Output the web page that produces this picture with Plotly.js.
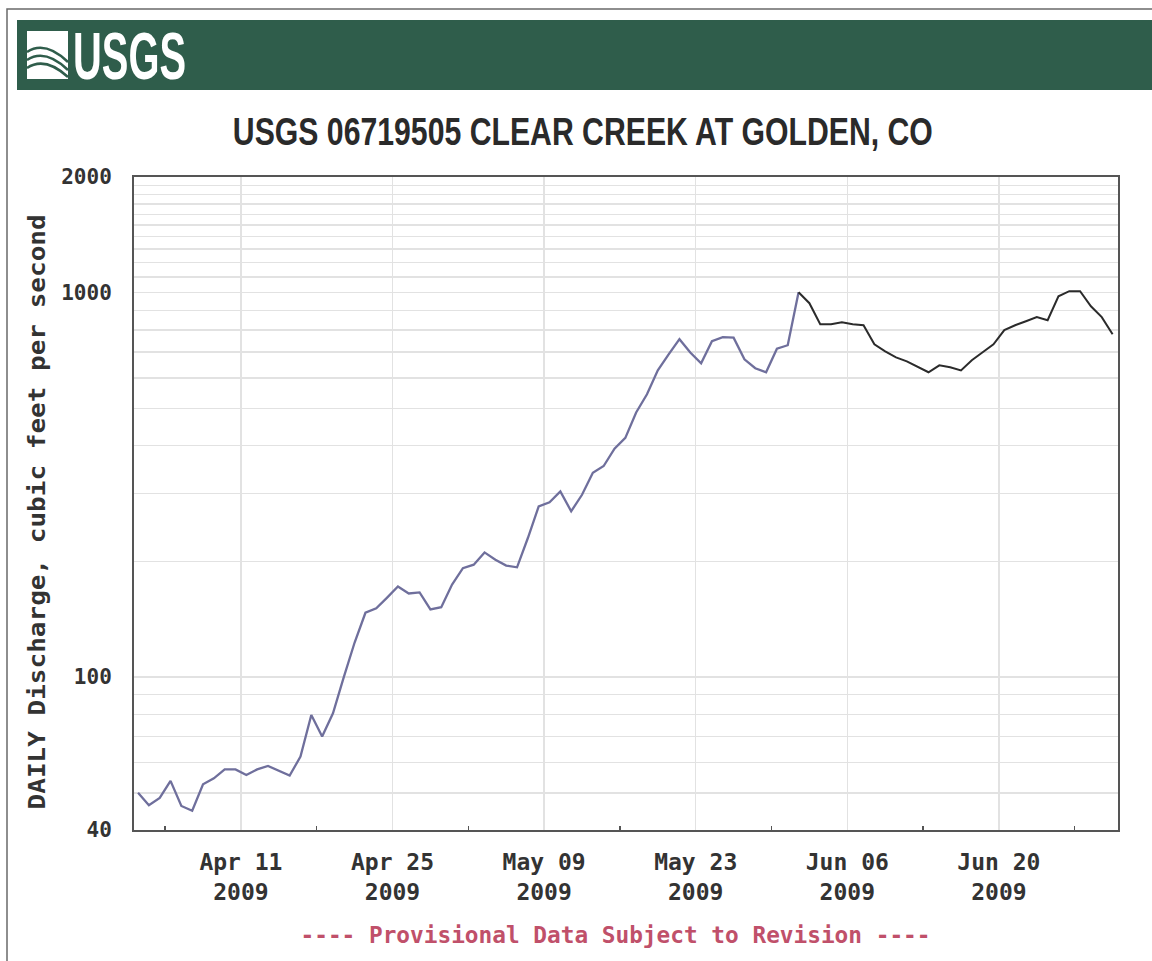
<!DOCTYPE html>
<html>
<head>
<meta charset="utf-8">
<script src="https://cdn.plot.ly/plotly-3.0.1.min.js"></script>
<style>
  html, body { margin: 0; padding: 0; background: #ffffff; }
  #chart { width: 1152px; height: 961px; }
</style>
</head>
<body>
<div id="chart"></div>
<script>
// ---------- data ----------
const approvedDates = [
  '2009-04-01','2009-04-02','2009-04-03','2009-04-04','2009-04-05','2009-04-06','2009-04-07','2009-04-08','2009-04-09','2009-04-10',
  '2009-04-11','2009-04-12','2009-04-13','2009-04-14','2009-04-15','2009-04-16','2009-04-17','2009-04-18','2009-04-19','2009-04-20',
  '2009-04-21','2009-04-22','2009-04-23','2009-04-24','2009-04-25','2009-04-26','2009-04-27','2009-04-28','2009-04-29','2009-04-30',
  '2009-05-01','2009-05-02','2009-05-03','2009-05-04','2009-05-05','2009-05-06','2009-05-07','2009-05-08','2009-05-09','2009-05-10',
  '2009-05-11','2009-05-12','2009-05-13','2009-05-14','2009-05-15','2009-05-16','2009-05-17','2009-05-18','2009-05-19','2009-05-20',
  '2009-05-21','2009-05-22','2009-05-23','2009-05-24','2009-05-25','2009-05-26','2009-05-27','2009-05-28','2009-05-29','2009-05-30',
  '2009-05-31','2009-06-01'
];
const approvedFlow = [
  50.0, 46.4, 48.5, 53.7, 46.2, 44.9, 52.6, 54.5, 57.5, 57.5,
  55.6, 57.5, 58.7, 56.9, 55.4, 62.1, 79.7, 70.0, 80.5, 100,
  123, 147, 151, 161, 172, 165, 166, 150, 152, 174,
  192, 196, 211, 202, 195, 193, 230, 278, 285, 304,
  270, 298, 340, 354, 393, 419, 488, 544, 628, 691,
  757, 699, 655, 748, 766, 764, 671, 636, 621, 715,
  730, 1003
];
const provisionalDates = [
  '2009-06-01','2009-06-02','2009-06-03','2009-06-04','2009-06-05','2009-06-06','2009-06-07','2009-06-08','2009-06-09','2009-06-10',
  '2009-06-11','2009-06-12','2009-06-13','2009-06-14','2009-06-15','2009-06-16','2009-06-17','2009-06-18','2009-06-19','2009-06-20',
  '2009-06-21','2009-06-22','2009-06-23','2009-06-24','2009-06-25','2009-06-26','2009-06-27','2009-06-28','2009-06-29','2009-06-30'
];
const provisionalFlow = [
  1003, 939, 828, 828, 838, 828, 823, 734, 704, 679,
  663, 643, 621, 647, 640, 628, 667, 700, 734, 799,
  823, 843, 864, 848, 979, 1009, 1009, 922, 864, 780
];
const xTickDates = ['2009-04-11','2009-04-25','2009-05-09','2009-05-23','2009-06-06','2009-06-20'];
const xTickLabels = ['Apr 11<br>2009','Apr 25<br>2009','May 09<br>2009','May 23<br>2009','Jun 06<br>2009','Jun 20<br>2009'];
const xMinorDates = ['2009-04-04','2009-04-18','2009-05-02','2009-05-16','2009-05-30','2009-06-13','2009-06-27'];
const yGridVals = [40,50,60,70,80,90,100,200,300,400,500,600,700,800,900,1000,1100,1200,1300,1400,1500,1600,1700,1800,1900,2000];
const yLabelVals = [40,100,1000,2000];

// ---------- layout helpers (pixel -> paper) ----------
const ML = 134, MR = 34, MT = 177, MB = 131, W = 1152, H = 961;
const PW = W - ML - MR, PH = H - MT - MB;
const px = v => (v - ML) / PW;
const py = v => (H - MB - v) / PH;

const mono = 'DejaVu Sans Mono, Liberation Mono, monospace';
const sans = 'Liberation Sans, Arial, sans-serif';

const traces = [
  {
    x: approvedDates.map(d => d + ' 12:00'),
    y: approvedFlow,
    type: 'scatter', mode: 'lines',
    line: { color: '#6f6f9c', width: 2.3 },
    hoverinfo: 'x+y', showlegend: false
  },
  {
    x: provisionalDates.map(d => d + ' 12:00'),
    y: provisionalFlow,
    type: 'scatter', mode: 'lines',
    line: { color: '#2b2b2b', width: 2, shape: 'linear' },
    hoverinfo: 'x+y', showlegend: false
  }
];

const layout = {
  width: W, height: H,
  margin: { l: ML, r: MR, t: MT, b: MB, pad: 0 },
  paper_bgcolor: '#ffffff',
  plot_bgcolor: '#ffffff',
  showlegend: false,
  xaxis: {
    type: 'date',
    range: ['2009-04-01 03:00', '2009-07-01 00:00'],
    tickmode: 'array',
    tickvals: xTickDates,
    ticktext: xTickLabels,
    ticks: '',
    showgrid: true,
    gridcolor: '#e2e2e2',
    gridwidth: 1.5,
    showline: true,
    linecolor: '#555555',
    linewidth: 2,
    mirror: true,
    zeroline: false,
    ticklabelstandoff: 10,
    tickfont: { family: mono, size: 23, color: '#333333', weight: 'bold' },
    minor: {
      tickmode: 'array',
      tickvals: xMinorDates,
      ticks: 'inside',
      ticklen: 4,
      tickwidth: 1.5,
      tickcolor: '#555555',
      showgrid: false
    }
  },
  yaxis: {
    type: 'log',
    range: [Math.log10(40), Math.log10(2000)],
    tickmode: 'array',
    tickvals: yGridVals,
    ticktext: yGridVals.map(v => yLabelVals.includes(v) ? String(v) : ''),
    ticks: '',
    showgrid: true,
    gridcolor: '#e2e2e2',
    gridwidth: 1.5,
    showline: true,
    linecolor: '#555555',
    linewidth: 2,
    mirror: true,
    zeroline: false,
    ticklabelstandoff: 16,
    tickfont: { family: mono, size: 21, color: '#333333', weight: 'bold' }
  },
  shapes: [
    // outer frame
    { type: 'rect', xref: 'paper', yref: 'paper', x0: px(7), x1: px(1170), y0: py(980), y1: py(9),
      line: { color: '#6a6a6a', width: 1.5 }, fillcolor: 'rgba(0,0,0,0)', layer: 'below' },
    // header band
    { type: 'rect', xref: 'paper', yref: 'paper', x0: px(17), x1: px(1160), y0: py(90), y1: py(20),
      line: { width: 0 }, fillcolor: '#2f5d4b', layer: 'below' },
    // logo box
    { type: 'rect', xref: 'paper', yref: 'paper', x0: px(27), x1: px(68), y0: py(79), y1: py(31),
      line: { width: 0 }, fillcolor: '#ffffff', layer: 'below' },
    { type: 'path', xref: 'paper', yref: 'paper', layer: 'below',
      path: `M ${px(27)},${py(52)} Q ${px(45)},${py(40)} ${px(68)},${py(62)}`,
      line: { color: '#2f5d4b', width: 2.5 } },
    { type: 'path', xref: 'paper', yref: 'paper', layer: 'below',
      path: `M ${px(27)},${py(60)} Q ${px(45)},${py(48)} ${px(68)},${py(70)}`,
      line: { color: '#2f5d4b', width: 2.5 } },
    { type: 'path', xref: 'paper', yref: 'paper', layer: 'below',
      path: `M ${px(27)},${py(68)} Q ${px(45)},${py(56)} ${px(68)},${py(77)}`,
      line: { color: '#2f5d4b', width: 2.5 } }
  ],
  annotations: [
    { xref: 'paper', yref: 'paper', x: px(129), y: py(56), xanchor: 'center', yanchor: 'middle',
      text: 'USGS', showarrow: false,
      font: { family: sans, size: 66, color: '#ffffff', weight: 'bold' } },
    { xref: 'paper', yref: 'paper', x: px(583), y: py(131), xanchor: 'center', yanchor: 'middle',
      text: 'USGS 06719505 CLEAR CREEK AT GOLDEN, CO', showarrow: false,
      font: { family: sans, size: 39, color: '#2a2a2a', weight: 'bold' } },
    { xref: 'paper', yref: 'paper', x: px(37), y: py(512), xanchor: 'center', yanchor: 'middle',
      text: 'DAILY Discharge, cubic feet per second', textangle: -90, showarrow: false,
      font: { family: mono, size: 23, color: '#333333', weight: 'bold' } },
    { xref: 'paper', yref: 'paper', x: px(615), y: py(935), xanchor: 'center', yanchor: 'middle',
      text: '---- Provisional Data Subject to Revision ----', showarrow: false,
      font: { family: mono, size: 23, color: '#c0506a', weight: 'bold' } }
  ]
};

// target rendered widths (px) for condensed header / title / axis-title text
const textWidths = [113, 700, 595, 630];

Plotly.newPlot('chart', traces, layout, { displayModeBar: false, staticPlot: true }).then(gd => {
  const texts = gd.querySelectorAll('.annotation-text');
  texts.forEach((t, i) => {
    if (textWidths[i]) {
      t.setAttribute('textLength', textWidths[i]);
      t.setAttribute('lengthAdjust', 'spacingAndGlyphs');
    }
  });
});
</script>
</body>
</html>
